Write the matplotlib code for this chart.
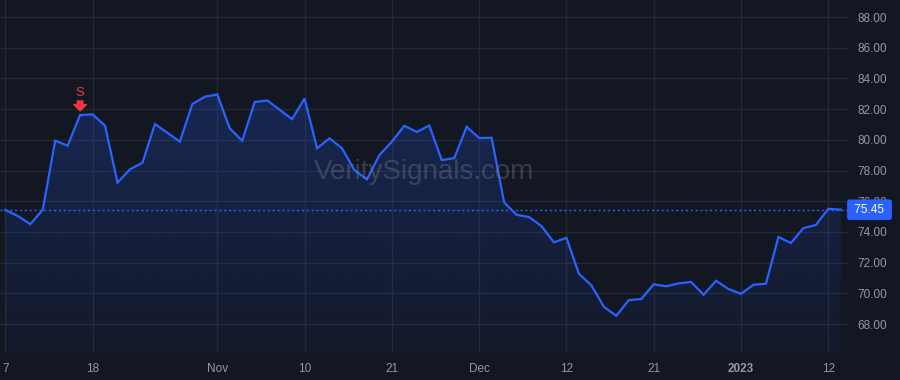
import matplotlib
matplotlib.use("Agg")
import matplotlib.pyplot as plt
import numpy as np
import pandas as pd
from matplotlib.transforms import blended_transform_factory

plt.rcParams["font.family"] = ["Liberation Sans", "DejaVu Sans"]

# trading days (US market holidays removed)
holidays = ["2022-11-24", "2022-12-26", "2023-01-02"]
dates = pd.bdate_range("2022-10-07", "2023-01-13")
dates = dates[~dates.isin(pd.to_datetime(holidays))]

prices = [75.43, 75.04, 74.51, 75.43, 79.94, 79.62, 81.62, 81.66, 80.92, 77.21,
          78.08, 78.51, 81.03, 80.46, 79.88, 82.33, 82.81, 82.96, 80.75, 79.94,
          82.46, 82.57, 81.96, 81.35, 82.70, 79.45, 80.10, 79.45, 78.03, 77.42,
          79.01, 79.88, 80.92, 80.51, 80.94, 78.68, 78.81, 80.85, 80.12, 80.14,
          75.93, 75.12, 74.97, 74.38, 73.32, 73.62, 71.28, 70.52, 69.13, 68.54,
          69.56, 69.63, 70.59, 70.46, 70.65, 70.74, 69.91, 70.82, 70.28, 69.97,
          70.56, 70.63, 73.67, 73.28, 74.25, 74.45, 75.51, 75.45]
last_price = 75.45

tick_dates = ["2022-10-07", "2022-10-18", "2022-11-01", "2022-11-10", "2022-11-21",
              "2022-12-01", "2022-12-12", "2022-12-21", "2023-01-03", "2023-01-12"]
tick_labels = ["7", "18", "Nov", "10", "21", "Dec", "12", "21", "2023", "12"]
price_ticks = [68, 70, 72, 74, 76, 78, 80, 82, 84, 86, 88]

signal_date = "2022-10-17"
signal_label = "S"

bg = "#131722"
blue = "#2962ff"
grid_c = "#242833"
txt_c = "#9598a1"

fig = plt.figure(figsize=(9, 3.8), dpi=100, facecolor=bg)
ax = fig.add_axes([0, 28 / 380, 848 / 900, 352 / 380])
ax.set_facecolor(bg)

x = np.arange(len(prices))
y = np.array(prices)
ymin, ymax = 66.18, 89.11

# gradient area under the line
poly = ax.fill_between(x, y, ymin, color="none", lw=0)
grad = np.zeros((256, 1, 4))
grad[:, 0, :3] = matplotlib.colors.to_rgb(blue)
grad[:, 0, 3] = np.linspace(0.04, 0.22, 256)
im = ax.imshow(grad, extent=[x[0], x[-1], ymin, y.max()], aspect="auto",
               origin="lower", zorder=1)
im.set_clip_path(poly.get_paths()[0], transform=ax.transData)

ax.plot(x, y, color=blue, lw=1.6, zorder=3, solid_joinstyle="miter")
ax.axhline(last_price, color=blue, lw=1, ls=(0, (1.5, 2)), zorder=2)

ax.set_xlim(-0.425, 67.58)
ax.set_ylim(ymin, ymax)

tick_pos = [dates.get_loc(pd.Timestamp(d)) for d in tick_dates]
ax.set_xticks(tick_pos)
ax.set_xticklabels(tick_labels)
for lab, t in zip(ax.get_xticklabels(), tick_labels):
    if t == "2023":
        lab.set_fontweight("bold")
        lab.set_color("#b2b5be")
ax.set_yticks(price_ticks)
ax.set_yticklabels([f"{v:.2f}" for v in price_ticks])
ax.yaxis.tick_right()
ax.tick_params(axis="both", length=0, colors=txt_c, labelsize=8.5)
ax.tick_params(axis="y", pad=7)
ax.tick_params(axis="x", pad=8)
for lab in ax.get_yticklabels():
    lab.set_horizontalalignment("left")
ax.grid(True, color=grid_c, lw=1)
ax.set_axisbelow(True)
for s in ax.spines.values():
    s.set_visible(False)

# watermark
ax.text(0.5, 0.51, "VeritySignals.com", transform=ax.transAxes, fontsize=20,
        color="#787b86", alpha=0.38, ha="center", va="center", zorder=4)

# sell signal
si = dates.get_loc(pd.Timestamp(signal_date))
ax.annotate(signal_label, xy=(si, prices[si]), xytext=(0, 22),
            textcoords="offset pixels", ha="center", va="center",
            color="#f23645", fontsize=9.5, zorder=5)
ax.annotate("", xy=(si, prices[si]), xytext=(0, 14), textcoords="offset pixels",
            arrowprops=dict(arrowstyle="simple,head_length=0.45,head_width=0.9,tail_width=0.4",
                            color="#f23645", shrinkA=0, shrinkB=3, mutation_scale=10),
            zorder=5)

# last price label
tr = blended_transform_factory(ax.transAxes, ax.transData)
ax.text(1.004, last_price, " 75.45 ", transform=tr, clip_on=False, ha="left",
        va="center", color="white", fontsize=8.5, zorder=10,
        bbox=dict(boxstyle="round,pad=0.3,rounding_size=0.15", fc=blue, ec=blue))

fig.savefig("out.png", dpi=100, facecolor=bg)
